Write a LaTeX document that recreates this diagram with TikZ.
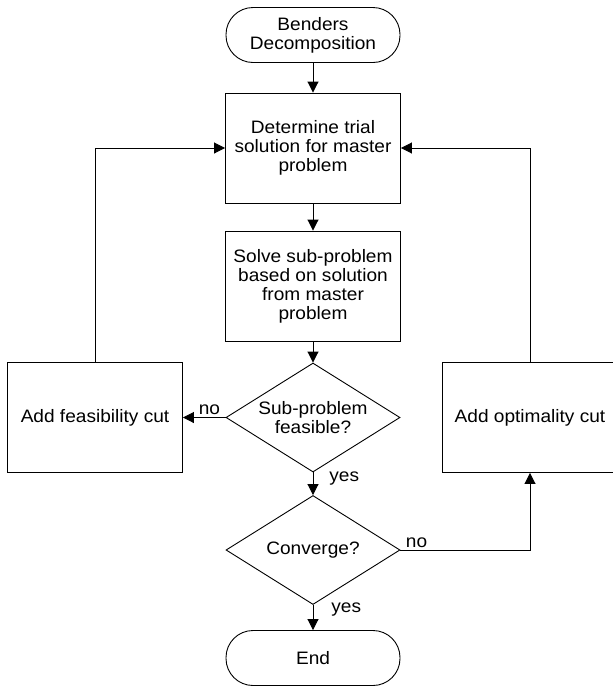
\documentclass[tikz,border=0pt]{standalone}
\usepackage{fontspec}
\setmainfont{Liberation Sans}[FakeStretch=1.06]
\usetikzlibrary{shapes.geometric,arrows.meta}
\begin{document}
\begin{tikzpicture}[x=1pt,y=-1pt,line width=0.9pt,
    >={Triangle[length=11pt,width=11pt]},
    every node/.style={font=\fontsize{18}{19}\selectfont,align=center},
    proc/.style={rectangle,draw,minimum width=175pt,minimum height=110pt,inner sep=0pt},
    term/.style={rectangle,draw,rounded corners=27pt,minimum width=174pt,minimum height=55pt,inner sep=0pt},
    dec/.style={diamond,draw,aspect=1.6,minimum width=174pt,minimum height=109pt,inner sep=0pt},
    lbl/.style={inner sep=2pt}]
    \useasboundingbox (0,0) rectangle (613,686);
    \node[term] (start) at (313,35) {Benders\\Decomposition};
    \node[proc] (master) at (313,148) {Determine trial\\solution for master\\problem};
    \node[proc] (sub) at (313,286) {Solve sub-problem\\based on solution\\from master\\problem};
    \node[dec] (feas) at (313,417.5) {Sub-problem\\feasible?};
    \node[proc] (feascut) at (95,417.5) {Add feasibility cut};
    \node[proc] (optcut) at (530,417.5) {Add optimality cut};
    \node[dec] (conv) at (313,550) {Converge?};
    \node[term] (stop) at (313,658) {End};
    \draw[->] (start) -- (master);
    \draw[->] (master) -- (sub);
    \draw[->] (sub) -- (feas);
    \draw[->] (feas) -- (feascut) node[lbl,pos=0,above left,xshift=-3pt] {no};
    \draw[->] (feas) -- (conv) node[lbl,pos=0.25,right,xshift=14pt] {yes};
    \draw[->] (conv) -- (stop) node[lbl,pos=0.2,right,xshift=16pt] {yes};
    \draw[->] (conv.east) -| (optcut.south) node[lbl,pos=0,above right,xshift=3pt] {no};
    \draw[->] (feascut.north) |- (master.west);
    \draw[->] (optcut.north) |- (master.east);
\end{tikzpicture}
\end{document}
